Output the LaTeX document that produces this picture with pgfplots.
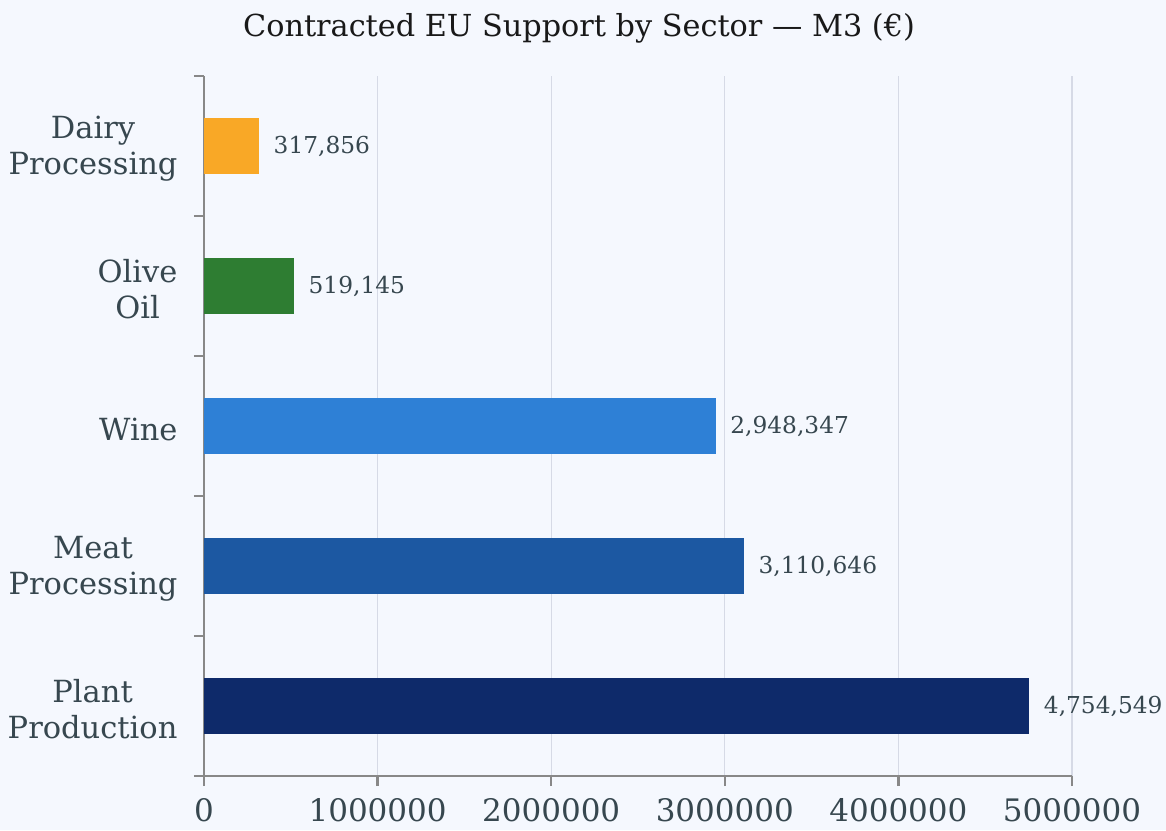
\documentclass[border=0pt]{standalone}
\usepackage{pgfplots}
\pgfplotsset{compat=1.18}
\usepackage{fontspec}
\setmainfont{DejaVu Serif}
\definecolor{bg}{HTML}{F5F8FE}
\definecolor{txt}{HTML}{37474F}
\definecolor{gridc}{HTML}{D6DAE6}
\definecolor{axc}{HTML}{888888}
\definecolor{cplant}{HTML}{0E2A6A}
\definecolor{cmeat}{HTML}{1C58A2}
\definecolor{cwine}{HTML}{2E80D6}
\definecolor{colive}{HTML}{2E7D32}
\definecolor{cdairy}{HTML}{F9A826}
\begin{document}
\begin{tikzpicture}[x=1pt,y=1pt]
\fill[bg] (0,0) rectangle (1166,830);
\path[use as bounding box] (0,0) rectangle (1166,830);
\node[anchor=base, text=black!90, font=\fontsize{30.3}{34}\selectfont] at (579,793) {Contracted EU Support by Sector — M3 (€)};
\begin{axis}[
  at={(204pt,54pt)}, anchor=south west,
  scale only axis, width=868pt, height=700pt,
  xbar, bar width=56pt, bar shift=0pt,
  xmin=0, xmax=5000000, ymin=-0.5, ymax=4.5,
  axis x line*=bottom, axis y line*=left,
  axis line style={axc, line width=2.5pt},
  xtick={0,1000000,...,5000000},
  scaled x ticks=false,
  xticklabel style={/pgf/number format/fixed, /pgf/number format/1000 sep={}, /pgf/number format/assume math mode=true, font=\fontsize{31}{34}\selectfont, text=txt, yshift=-9pt},
  xmajorgrids, major grid style={gridc, line width=1.2pt},
  major tick length=10pt, tick align=outside,
  tick style={axc, line width=2.5pt},
  every tick/.style={axc, line width=2.5pt},
  ytick={-0.5,0.5,1.5,2.5,3.5,4.5},
  yticklabels={},
  extra y ticks={0,1,2,3,4},
  extra y tick labels={Plant\\Production, Meat\\Processing, Wine, Olive\\Oil, Dairy\\Processing},
  extra y tick style={major tick length=0pt, yticklabel style={align=center, font=\fontsize{30.5}{36}\selectfont, text=txt, xshift=-23pt, yshift=-3pt}},
  ymajorgrids=false,
  nodes near coords={\pgfmathprintnumber[fixed,precision=0,1000 sep={,},assume math mode=true]{\pgfplotspointmeta}},
  point meta=x,
  every node near coord/.append style={anchor=west, xshift=11pt, font=\fontsize{23.3}{28}\selectfont, text=txt},
  clip=false,
]
\addplot[fill=cplant, draw=none] coordinates {(4754549,0)};
\addplot[fill=cmeat, draw=none] coordinates {(3110646,1)};
\addplot[fill=cwine, draw=none] coordinates {(2948347,2)};
\addplot[fill=colive, draw=none] coordinates {(519145,3)};
\addplot[fill=cdairy, draw=none] coordinates {(317856,4)};
\end{axis}
\end{tikzpicture}
\end{document}
